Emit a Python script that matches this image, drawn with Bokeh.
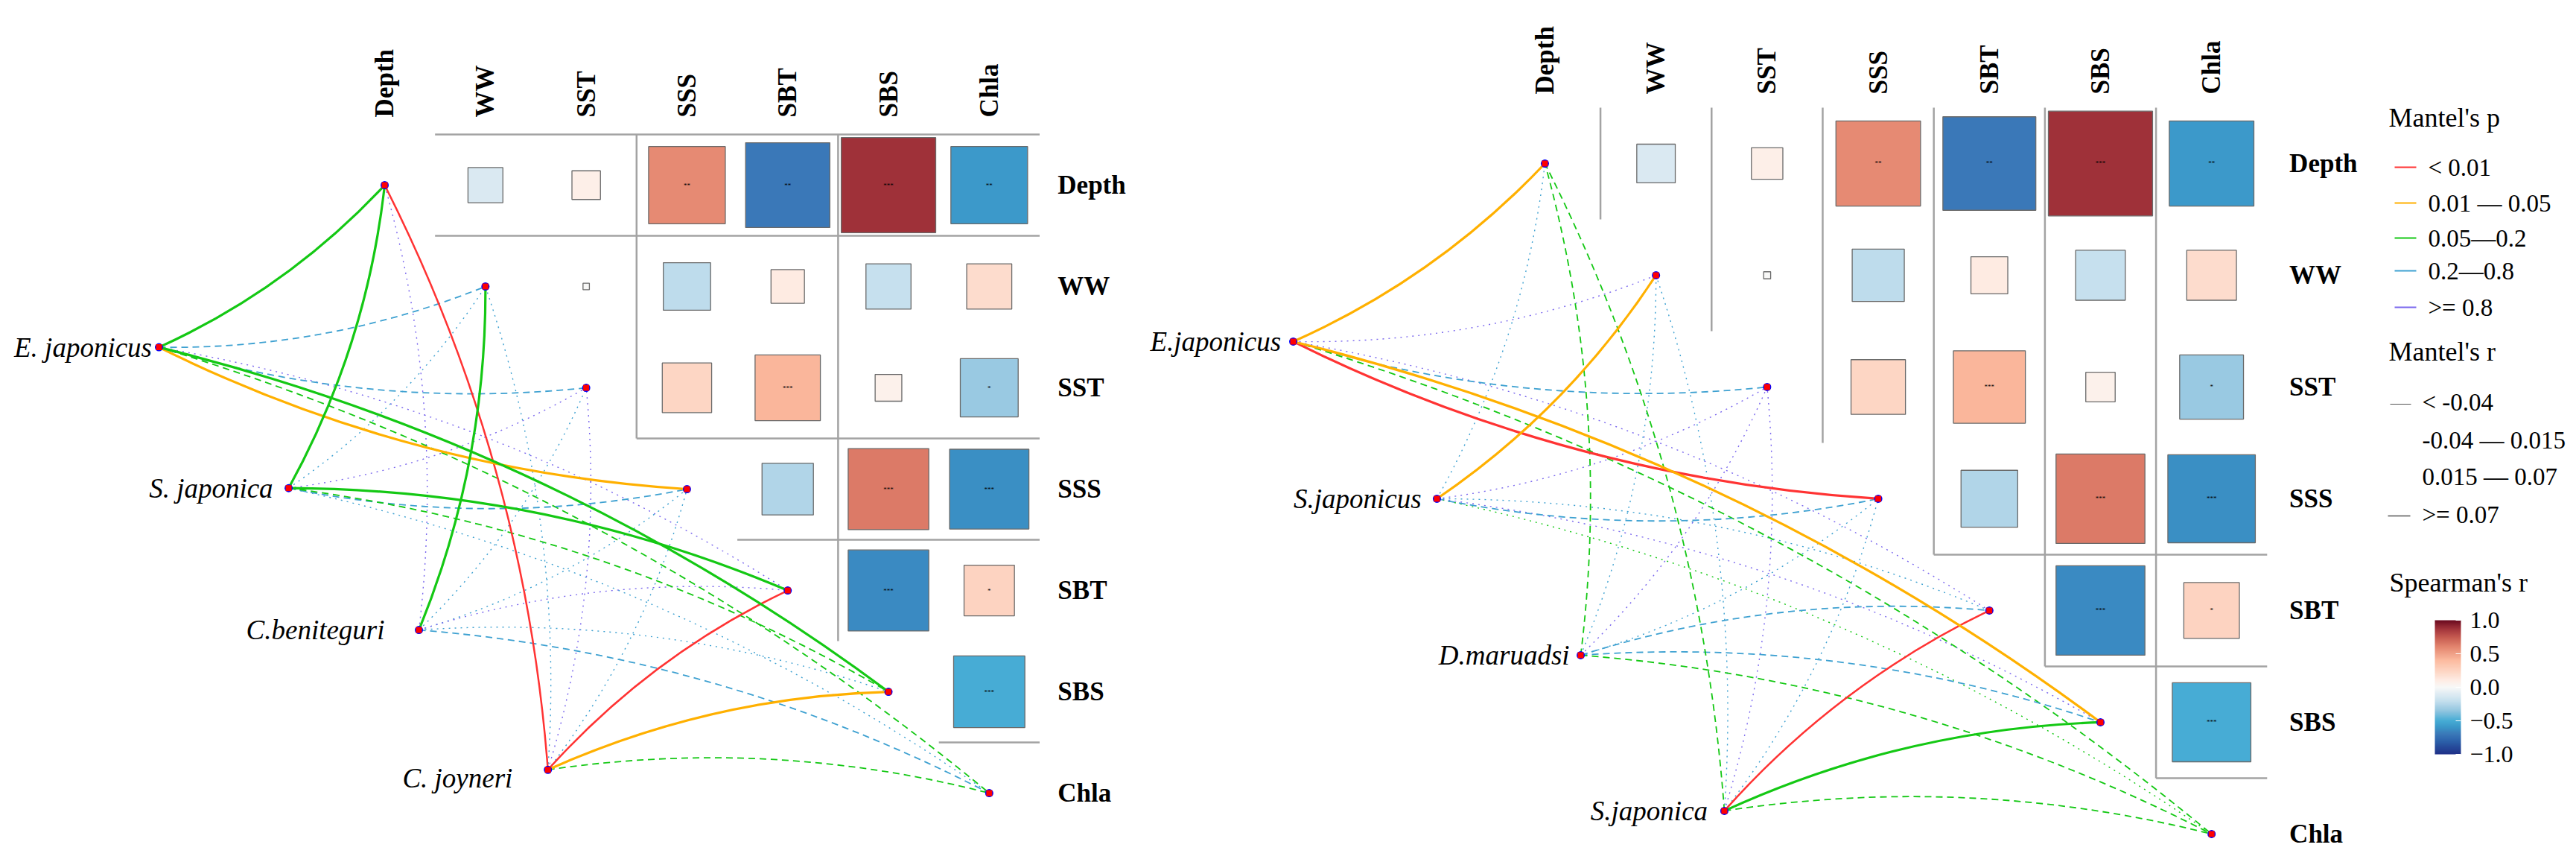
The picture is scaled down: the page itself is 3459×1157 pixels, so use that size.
import numpy as np
from bokeh.plotting import figure
from bokeh.models import Range1d, LinearColorMapper, ColorBar, FixedTicker, ColumnDataSource
from bokeh.layouts import row
from bokeh.embed import file_html
from bokeh.resources import INLINE
from bokeh.core.properties import value

# ---------------- data ----------------
env_vars = ["Depth", "WW", "SST", "SSS", "SBT", "SBS", "Chla"]

# upper triangle of the Spearman correlation matrix (row var, column var)
corr_row = [0, 0, 0, 0, 0, 0, 1, 1, 1, 1, 1, 2, 2, 2, 2, 3, 3, 3, 4, 4, 5]
corr_col = [1, 2, 3, 4, 5, 6, 2, 3, 4, 5, 6, 3, 4, 5, 6, 4, 5, 6, 5, 6, 6]
corr_r = [-0.12, 0.08, 0.58, -0.70, 0.88, -0.58,
          0.004, -0.22, 0.11, -0.20, 0.20,
          0.24, 0.42, 0.07, -0.33,
          -0.26, 0.64, -0.62,
          -0.64, 0.25,
          -0.50]
corr_sig = ["", "", "**", "**", "***", "**",
            "", "", "", "", "",
            "", "***", "", "*",
            "", "***", "***",
            "***", "*",
            "***"]

p_levels = ["< 0.01", "0.01 \u2014 0.05", "0.05\u20140.2", "0.2\u20140.8", ">= 0.8"]
r_levels = ["< -0.04", "-0.04 \u2014 0.015", "0.015 \u2014 0.07", ">= 0.07"]

# Mantel test categories per species (rows) x env variable (columns)
# values are indices into p_levels / r_levels
left_species = ["E. japonicus", "S. japonica", "C.beniteguri", "C. joyneri"]
left_pd = [[2, 3, 3, 1, 4, 2, 2],
           [2, 3, 4, 3, 2, 2, 3],
           [4, 2, 3, 3, 4, 3, 3],
           [0, 3, 4, 3, 0, 1, 2]]
left_rd = [[3, 1, 1, 3, 0, 3, 1],
           [3, 0, 0, 1, 3, 1, 0],
           [0, 3, 0, 0, 0, 0, 1],
           [2, 0, 0, 0, 2, 3, 1]]

right_species = ["E.japonicus", "S.japonicus", "D.maruadsi", "S.japonica"]
right_pd = [[1, 4, 3, 0, 4, 1, 2],
            [3, 1, 4, 3, 3, 4, 2],
            [2, 3, 4, 3, 3, 3, 2],
            [2, 3, 4, 3, 0, 2, 2]]
right_rd = [[3, 0, 1, 3, 0, 3, 1],
            [0, 3, 0, 1, 0, 0, 0],
            [1, 0, 0, 0, 1, 1, 1],
            [1, 0, 0, 0, 2, 3, 1]]

cbar_ticks = [-1.0, -0.5, 0.0, 0.5, 1.0]
cbar_labels = ["\u22121.0", "\u22120.5", "0.0", "0.5", "1.0"]

# ---------------- styles / layout ----------------
SERIF = value("Liberation Serif")
H = 1150
p_colors = ["#FF3333", "#FFB000", "#14C814", "#3EA1D1", "#7B68EE"]
r_widths = [1.4, 1.8, 2.5, 3.2]
r_dashes = ["2 6", "9 6", "solid", "solid"]

anchors = [(-1.0, "#1f3088"), (-0.8, "#2c62ab"), (-0.7, "#3a78b8"), (-0.6, "#3a96c8"),
           (-0.5, "#46acd5"), (-0.35, "#93c6e0"), (-0.2, "#c6e0ee"), (0.0, "#f8f8f8"),
           (0.1, "#feede5"), (0.2, "#fddccd"), (0.4, "#fcbba0"), (0.6, "#e4866f"),
           (0.75, "#c65a50"), (0.88, "#a0323a"), (1.0, "#6b0a1f")]


def hex2rgb(h):
    return np.array([int(h[i:i + 2], 16) for i in (1, 3, 5)], dtype=float)


av = np.array([a[0] for a in anchors])
ac = np.array([hex2rgb(a[1]) for a in anchors])
palette = []
for v in np.linspace(-1, 1, 256):
    rgb = [np.interp(v, av, ac[:, k]) for k in range(3)]
    palette.append("#%02x%02x%02x" % tuple(int(round(c)) for c in rgb))
mapper = LinearColorMapper(palette=palette, low=-1, high=1)


def make_fig(width, xr, yr):
    p = figure(width=width, height=H, x_range=Range1d(*xr), y_range=Range1d(*yr),
               output_backend="svg", toolbar_location=None,
               x_axis_type=None, y_axis_type=None, min_border=0)
    p.outline_line_color = None
    p.background_fill_color = "white"
    return p


def draw_panel(p, species, pd, rd, sp_x, sp_y, lab_gap, lab_dy, hlines, vlines,
               col_lab_y, row_lab_x):
    # grid lines
    p.segment(x0=[h[1] for h in hlines], y0=[-h[0] for h in hlines],
              x1=[h[2] for h in hlines], y1=[-h[0] for h in hlines],
              line_color="#a3a3a3", line_width=2.5)
    p.segment(x0=[v[0] for v in vlines], y0=[-v[1] for v in vlines],
              x1=[v[0] for v in vlines], y1=[-v[2] for v in vlines],
              line_color="#a3a3a3", line_width=2.5)
    # correlation squares
    src = ColumnDataSource(dict(x=corr_col, y=[-r for r in corr_row], r=corr_r,
                                s=[np.sqrt(abs(r)) for r in corr_r], sig=corr_sig))
    p.rect(x="x", y="y", width="s", height="s", source=src,
           fill_color={"field": "r", "transform": mapper},
           line_color="#6a6a6a", line_width=1.3)
    p.text(x="x", y="y", text="sig", source=src, text_font=SERIF, text_font_size="9px",
           text_align="center", text_baseline="middle", text_color="black")
    # mantel links (quadratic curves)
    ex = list(range(7))
    ey = [-i for i in range(7)]
    for k in range(4):
        d = dict(x0=[], y0=[], x1=[], y1=[], cx=[], cy=[], c=[])
        for s in range(len(species)):
            for e in range(7):
                if rd[s][e] != k:
                    continue
                x0, y0, x1, y1 = sp_x[s], sp_y[s], ex[e], ey[e]
                dx, dy = x1 - x0, y1 - y0
                sign = 1.0 if e <= 3 else -1.0
                cx = (x0 + x1) / 2 + sign * 0.1 * dy
                cy = (y0 + y1) / 2 - sign * 0.1 * dx
                d["x0"].append(x0); d["y0"].append(y0)
                d["x1"].append(x1); d["y1"].append(y1)
                d["cx"].append(cx); d["cy"].append(cy)
                d["c"].append(p_colors[pd[s][e]])
        if d["x0"]:
            p.quadratic(x0="x0", y0="y0", x1="x1", y1="y1", cx="cx", cy="cy",
                        source=ColumnDataSource(d), line_color="c",
                        line_width=r_widths[k], line_dash=r_dashes[k])
    # nodes
    nx = list(sp_x) + ex
    ny = list(sp_y) + ey
    p.scatter(nx, ny, marker="circle", size=11, fill_color="blue", line_color=None)
    p.scatter(nx, ny, marker="square", size=8, fill_color="red", line_color=None)
    # species labels
    p.text(x=[sp_x[i] - lab_gap[i] for i in range(4)],
           y=[sp_y[i] + lab_dy[i] for i in range(4)], text=species,
           text_font=SERIF, text_font_size="37px", text_font_style="italic",
           text_align="right", text_baseline="middle", text_color="black")
    # column labels (rotated) and row labels
    p.text(x=ex, y=[col_lab_y] * 7, text=env_vars, angle=np.pi / 2,
           text_font=SERIF, text_font_size="35px", text_font_style="bold",
           text_align="left", text_baseline="middle", text_color="black")
    p.text(x=[row_lab_x] * 7, y=ey, text=env_vars,
           text_font=SERIF, text_font_size="35px", text_font_style="bold",
           text_align="left", text_baseline="middle", text_color="black")


# ---------------- left panel (page x 0 .. 1527) ----------------
p1 = make_fig(1527, (-3.814, 7.472), (-6.632, 1.8235))
draw_panel(p1, left_species, left_pd, left_rd,
           sp_x=[-2.24, -0.953, 0.34, 1.62], sp_y=[-1.60, -2.99, -4.39, -5.77],
           lab_gap=[0.07, 0.155, 0.34, 0.35], lab_dy=[0.0, 0.0, 0.0, -0.08],
           hlines=[(-0.5, 0.5, 6.5), (0.5, 0.5, 6.5), (2.5, 2.5, 6.5), (3.5, 3.5, 6.5), (5.5, 5.5, 6.5)],
           vlines=[(2.5, -0.5, 2.5), (4.5, -0.5, 4.5)],
           col_lab_y=0.67, row_lab_x=6.68)

# ---------------- right panel (page x 1527 .. 3170) ----------------
p2 = make_fig(1643, (-3.666, 7.346), (-6.207, 1.46))
draw_panel(p2, right_species, right_pd, right_rd,
           sp_x=[-2.265, -0.972, 0.322, 1.615], sp_y=[-1.593, -3.0, -4.4, -5.793],
           lab_gap=[0.11, 0.14, 0.10, 0.15], lab_dy=[0.0, 0.0, 0.0, 0.0],
           hlines=[(3.5, 3.5, 6.5), (4.5, 4.5, 6.5), (5.5, 5.5, 6.5)],
           vlines=[(0.5, -0.5, 0.5), (1.5, -0.5, 1.5), (2.5, -0.5, 2.5),
                   (3.5, -0.5, 3.5), (4.5, -0.5, 4.5), (5.5, -0.5, 5.5)],
           col_lab_y=0.62, row_lab_x=6.7)

# ---------------- legend (page x 3170 .. 3455) ----------------
p3 = make_fig(285, (3170, 3455), (1150, 0))
tkw = dict(text_font=SERIF, text_baseline="middle", text_align="left", text_color="black")
p3.text(x=[3207, 3207, 3208], y=[157, 471, 781], text=["Mantel's p", "Mantel's r", "Spearman's r"],
        text_font_size="36px", **tkw)
py = [224, 272, 319, 363, 412]
p3.segment(x0=[3215] * 5, y0=py, x1=[3244] * 5, y1=py, line_color=p_colors, line_width=2)
p3.text(x=[3260] * 5, y=py, text=p_levels, text_font_size="33px", **tkw)
ry = [539, 590, 639, 690]
p3.segment(x0=[3209, 3206], y0=[ry[0] + 3, ry[3] + 2], x1=[3237, 3236], y1=[ry[0] + 3, ry[3] + 2],
           line_color="#555555", line_width=[1.2, 1.6])
p3.text(x=[3252] * 4, y=ry, text=r_levels, text_font_size="33px", **tkw)

cbar = ColorBar(color_mapper=mapper, location=(99, 138), width=35, height=180,
                padding=0, margin=0, ticker=FixedTicker(ticks=cbar_ticks),
                major_label_overrides={t: l for t, l in zip(cbar_ticks, cbar_labels)},
                major_label_text_font="Liberation Serif", major_label_text_font_size="32px",
                major_label_text_color="black", label_standoff=12,
                major_tick_line_color="white", major_tick_in=7, major_tick_out=0,
                minor_tick_line_color=None, bar_line_color=None,
                border_line_color=None, background_fill_color=None)
p3.add_layout(cbar, "center")

layout = row(p1, p2, p3)
open("out.html", "w").write(file_html(layout, INLINE))
